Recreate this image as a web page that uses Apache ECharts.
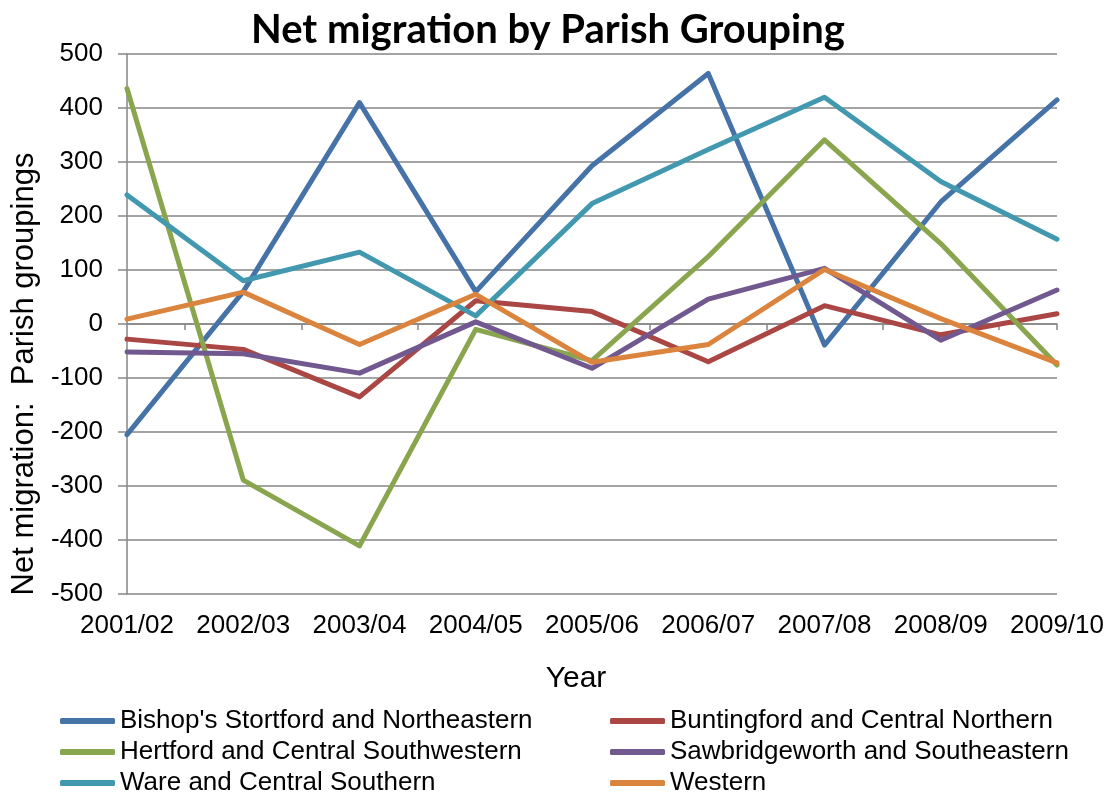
<!DOCTYPE html>
<html>
<head>
<meta charset="utf-8">
<script src="https://cdn.jsdelivr.net/npm/echarts@6/dist/echarts.min.js"></script>
<style>
  html, body { margin: 0; padding: 0; background: #fff; }
  #chart { width: 1112px; height: 798px; }
</style>
</head>
<body>
<div id="chart"></div>
<script>
// categories (financial years)
var years = ['2001/02', '2002/03', '2003/04', '2004/05', '2005/06', '2006/07', '2007/08', '2008/09', '2009/10'];

// net migration per parish grouping
var bishops      = [-205, 60, 410, 60, 293, 464, -39, 226, 415];
var buntingford  = [-28, -47, -135, 43, 23, -70, 34, -20, 19];
var hertford     = [436, -289, -411, -10, -68, 125, 341, 149, -76];
var sawbridge    = [-52, -55, -91, 4, -82, 46, 103, -30, 63];
var ware         = [239, 80, 133, 15, 223, 323, 420, 264, 157];
var western      = [9, 59, -38, 55, -71, -38, 101, 10, -72];

var yTicks = { min: -500, max: 500, step: 100 };

// 16 half-bands, used only to put the small ticks between categories on the zero line
var halfBands = [];
for (var i = 0; i < (years.length - 1) * 2; i++) halfBands.push(String(i));

var grey = '#868686';
var font = 'Liberation Sans, Arial, sans-serif';

function lineSeries(name, data, color) {
  return {
    name: name,
    type: 'line',
    data: data,
    xAxisIndex: 0,
    symbol: 'none',
    color: color,
    lineStyle: { width: 5, color: color, cap: 'round', join: 'round' }
  };
}

var legendBase = {
  orient: 'vertical', top: 708, padding: 0,
  itemWidth: 55, itemHeight: 6, itemGap: 5, icon: 'roundRect',
  textStyle: { fontFamily: font, fontSize: 26, color: '#000', lineHeight: 26 }
};

var chart = echarts.init(document.getElementById('chart'));
var option = {
  animation: false,
  backgroundColor: '#fff',
  title: {
    text: 'Net migration by Parish Grouping',
    left: 246,
    top: 5,
    textStyle: { fontFamily: 'Lato, sans-serif', fontWeight: 'bold', fontSize: 40, color: '#000' }
  },
  grid: { left: 127, right: 55, top: 54, bottom: 204 },
  legend: [
    Object.assign({}, legendBase, {
      data: ["Bishop's Stortford and Northeastern", 'Hertford and Central Southwestern', 'Ware and Central Southern'],
      left: 60
    }),
    Object.assign({}, legendBase, {
      data: ['Buntingford and Central Northern', 'Sawbridgeworth and Southeastern', 'Western'],
      left: 610
    })
  ],
  xAxis: [
    {
      type: 'category',
      data: years,
      boundaryGap: false,
      position: 'bottom',
      axisLine: { show: false, onZero: false },
      axisTick: { show: false },
      axisLabel: { fontFamily: font, fontSize: 26, color: '#000', margin: 19, interval: 0 },
      name: 'Year',
      nameLocation: 'middle',
      nameGap: 70,
      nameTextStyle: { fontFamily: font, fontSize: 30, color: '#000', padding: [0, 32, 0, 0] }
    },
    {
      type: 'category',
      data: halfBands,
      boundaryGap: true,
      position: 'top',
      axisLine: { show: true, onZero: true, lineStyle: { color: grey, width: 1.5 } },
      axisTick: {
        show: true, inside: true, length: 6,
        interval: function (idx) { return idx % 2 === 1; },
        lineStyle: { color: grey, width: 1.5 }
      },
      axisLabel: { show: false },
      splitLine: { show: false }
    }
  ],
  yAxis: {
    type: 'value',
    min: yTicks.min,
    max: yTicks.max,
    interval: yTicks.step,
    axisLine: { show: true, lineStyle: { color: grey, width: 1.5 } },
    axisTick: { show: true, length: 9, lineStyle: { color: grey, width: 1.5 } },
    axisLabel: { fontFamily: font, fontSize: 26, color: '#000', margin: 24 },
    splitLine: { lineStyle: { color: grey, width: 1.5 } },
    name: 'Net migration:  Parish groupings',
    nameLocation: 'middle',
    nameGap: 82,
    nameTextStyle: { fontFamily: font, fontSize: 31, color: '#000', padding: [0, 100, 0, 0] }
  },
  series: [
    lineSeries("Bishop's Stortford and Northeastern", bishops, '#4572A7'),
    lineSeries('Buntingford and Central Northern', buntingford, '#AA4643'),
    lineSeries('Hertford and Central Southwestern', hertford, '#89A54E'),
    lineSeries('Sawbridgeworth and Southeastern', sawbridge, '#71588F'),
    lineSeries('Ware and Central Southern', ware, '#4198AF'),
    lineSeries('Western', western, '#DB843D')
  ]
};
chart.setOption(option);
</script>
</body>
</html>
